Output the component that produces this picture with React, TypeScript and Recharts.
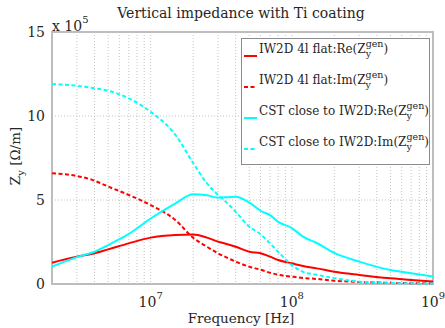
import { LineChart, Line, XAxis, YAxis, CartesianGrid, ReferenceArea, Legend } from 'recharts';

// frequency [Hz]
const freq = [
  2e6, 3e6, 4e6, 5e6, 7e6, 1e7, 1.5e7, 2e7, 2.5e7, 3e7, 3.5e7, 4e7, 5e7, 6e7, 7e7, 8e7,
  1e8, 1.2e8, 1.5e8, 2e8, 3e8, 5e8, 7e8, 1e9,
];
// impedance values, in units of 1e5 Ohm/m
const iw2dRe = [
  1.27, 1.63, 1.83, 2.06, 2.42, 2.76, 2.92, 2.95, 2.76, 2.52, 2.37, 2.22, 1.92, 1.83, 1.63, 1.43,
  1.23, 1.07, 0.93, 0.73, 0.54, 0.34, 0.24, 0.15,
];
const iw2dIm = [
  6.59, 6.43, 6.15, 5.8, 5.3, 4.7, 3.8, 2.75, 2.22, 1.83, 1.55, 1.33, 1.03, 0.85, 0.67, 0.55,
  0.44, 0.36, 0.3, 0.2, 0.12, 0.07, 0.05, 0.04,
];
const cstRe = [
  1.03, 1.6, 1.92, 2.32, 2.98, 3.9, 4.8, 5.34, 5.28, 5.14, 5.17, 5.2, 4.85, 4.36, 4.1, 3.7,
  3.33, 2.82, 2.44, 1.85, 1.33, 0.83, 0.64, 0.44,
];
const cstIm = [
  11.9, 11.8, 11.65, 11.5, 11.05, 10.25, 8.87, 7.2, 6.0, 5.3, 4.8, 4.3, 3.41, 2.96, 2.42, 1.92,
  1.13, 0.72, 0.55, 0.35, 0.14, 0.06, 0.04, 0.03,
];

const xTicks = [
  2e6, 3e6, 4e6, 5e6, 6e6, 7e6, 8e6, 9e6,
  1e7, 2e7, 3e7, 4e7, 5e7, 6e7, 7e7, 8e7, 9e7,
  1e8, 2e8, 3e8, 4e8, 5e8, 6e8, 7e8, 8e8, 9e8, 1e9,
];
const yTicks = [0, 5, 10, 15];

const series = [
  { key: 'iw2dRe', name: 'IW2D 4l flat:Re', color: '#ff0000', dash: undefined },
  { key: 'iw2dIm', name: 'IW2D 4l flat:Im', color: '#ff0000', dash: '4 2.5' },
  { key: 'cstRe', name: 'CST close to IW2D:Re', color: '#00ffff', dash: undefined },
  { key: 'cstIm', name: 'CST close to IW2D:Im', color: '#00ffff', dash: '4 2.5' },
];

const data = freq.map((f, i) => ({
  f,
  iw2dRe: iw2dRe[i],
  iw2dIm: iw2dIm[i],
  cstRe: cstRe[i],
  cstIm: cstIm[i],
}));

const FONT = '"DejaVu Serif", serif';
const INK = '#262626';

const DecadeTick = ({ x, y, payload }: any) => {
  const v = payload.value;
  const e = Math.round(Math.log10(v));
  if (Math.abs(v - Math.pow(10, e)) > 1e-6 * v) return null;
  return (
    <text x={x} y={y + 15} textAnchor="middle" fontFamily={FONT} fontSize={14} fill={INK}>
      10<tspan dy={-8} fontSize={10}>{e}</tspan>
    </text>
  );
};

const LegendBox = () => (
  <div
    style={{
      position: 'relative',
      border: '1px solid #8c8c8c',
      background: '#fff',
      fontFamily: FONT,
      fontSize: 12,
      color: INK,
      boxSizing: 'border-box',
      width: 189,
      height: 127,
    }}
  >
    {series.map((s, i) => (
      <div
        key={s.key}
        style={{
          position: 'absolute',
          left: 0,
          top: 0 + i * 31,
          height: 20,
          display: 'flex',
          alignItems: 'center',
          whiteSpace: 'nowrap',
        }}
      >
        <svg width={17} height={10} style={{ marginTop: 14 }}>
          <line x1={2} y1={5} x2={15} y2={5} stroke={s.color} strokeWidth={2} strokeDasharray={s.dash} />
        </svg>
        <span>
          {s.name}(Z
          <span style={{ display: 'inline-flex', flexDirection: 'column', verticalAlign: 'middle', lineHeight: '10px', fontSize: 9.5 }}>
            <span>gen</span>
            <span>y</span>
          </span>
          )
        </span>
      </div>
    ))}
  </div>
);

export default function App() {
  return (
    <div style={{ position: 'relative', width: 445, height: 328, background: '#fff' }}>
      <style>{'body{margin:0}'}</style>
      <LineChart width={445} height={328} data={data} margin={{ top: 32, right: 12, bottom: 0, left: 0 }}>
        <CartesianGrid stroke="#c4c4c4" strokeDasharray="1 2" strokeWidth={1} />
        <XAxis
          dataKey="f"
          type="number"
          scale="log"
          domain={[2e6, 1e9]}
          ticks={xTicks}
          interval={0}
          allowDataOverflow
          tick={<DecadeTick />}
          tickLine={false}
          axisLine={false}
          height={44}
        />
        <YAxis
          type="number"
          domain={[0, 15]}
          ticks={yTicks}
          tickLine={false}
          axisLine={false}
          width={52}
          tick={{ fontFamily: FONT, fontSize: 14, fill: INK }}
          tickMargin={1}
        />
        <ReferenceArea x1={2e6} x2={1e9} y1={0} y2={15} fill="none" stroke="#bdbdbd" strokeWidth={2} />
        {series.map((s) => (
          <Line
            key={s.key}
            dataKey={s.key}
            name={s.name}
            type="monotone"
            stroke={s.color}
            strokeWidth={2}
            strokeDasharray={s.dash}
            dot={false}
            isAnimationActive={false}
          />
        ))}
        <Legend
          content={<LegendBox />}
          layout="vertical"
          verticalAlign="middle"
          align="center"
          wrapperStyle={{ position: 'absolute', top: 38, left: 241, width: 189 }}
        />
      </LineChart>
      <svg width={445} height={328} style={{ position: 'absolute', left: 0, top: 0, pointerEvents: 'none' }}>
        <text x={241} y={18} textAnchor="middle" fontFamily={FONT} fontSize={14} fill={INK}>
          Vertical impedance with Ti coating
        </text>
        <text x={52} y={31} fontFamily={FONT} fontSize={14} fill={INK}>
          x 10<tspan dy={-8} fontSize={10}>5</tspan>
        </text>
        <text x={241} y={323} textAnchor="middle" fontFamily={FONT} fontSize={13.5} fill={INK}>
          Frequency [Hz]
        </text>
        <text transform="translate(20,156) rotate(-90)" textAnchor="middle" fontFamily={FONT} fontSize={13.5} fill={INK}>
          Z<tspan dy={4} fontSize={10}>y</tspan>
          <tspan dy={-4}> [Ω/m]</tspan>
        </text>
      </svg>
    </div>
  );
}
